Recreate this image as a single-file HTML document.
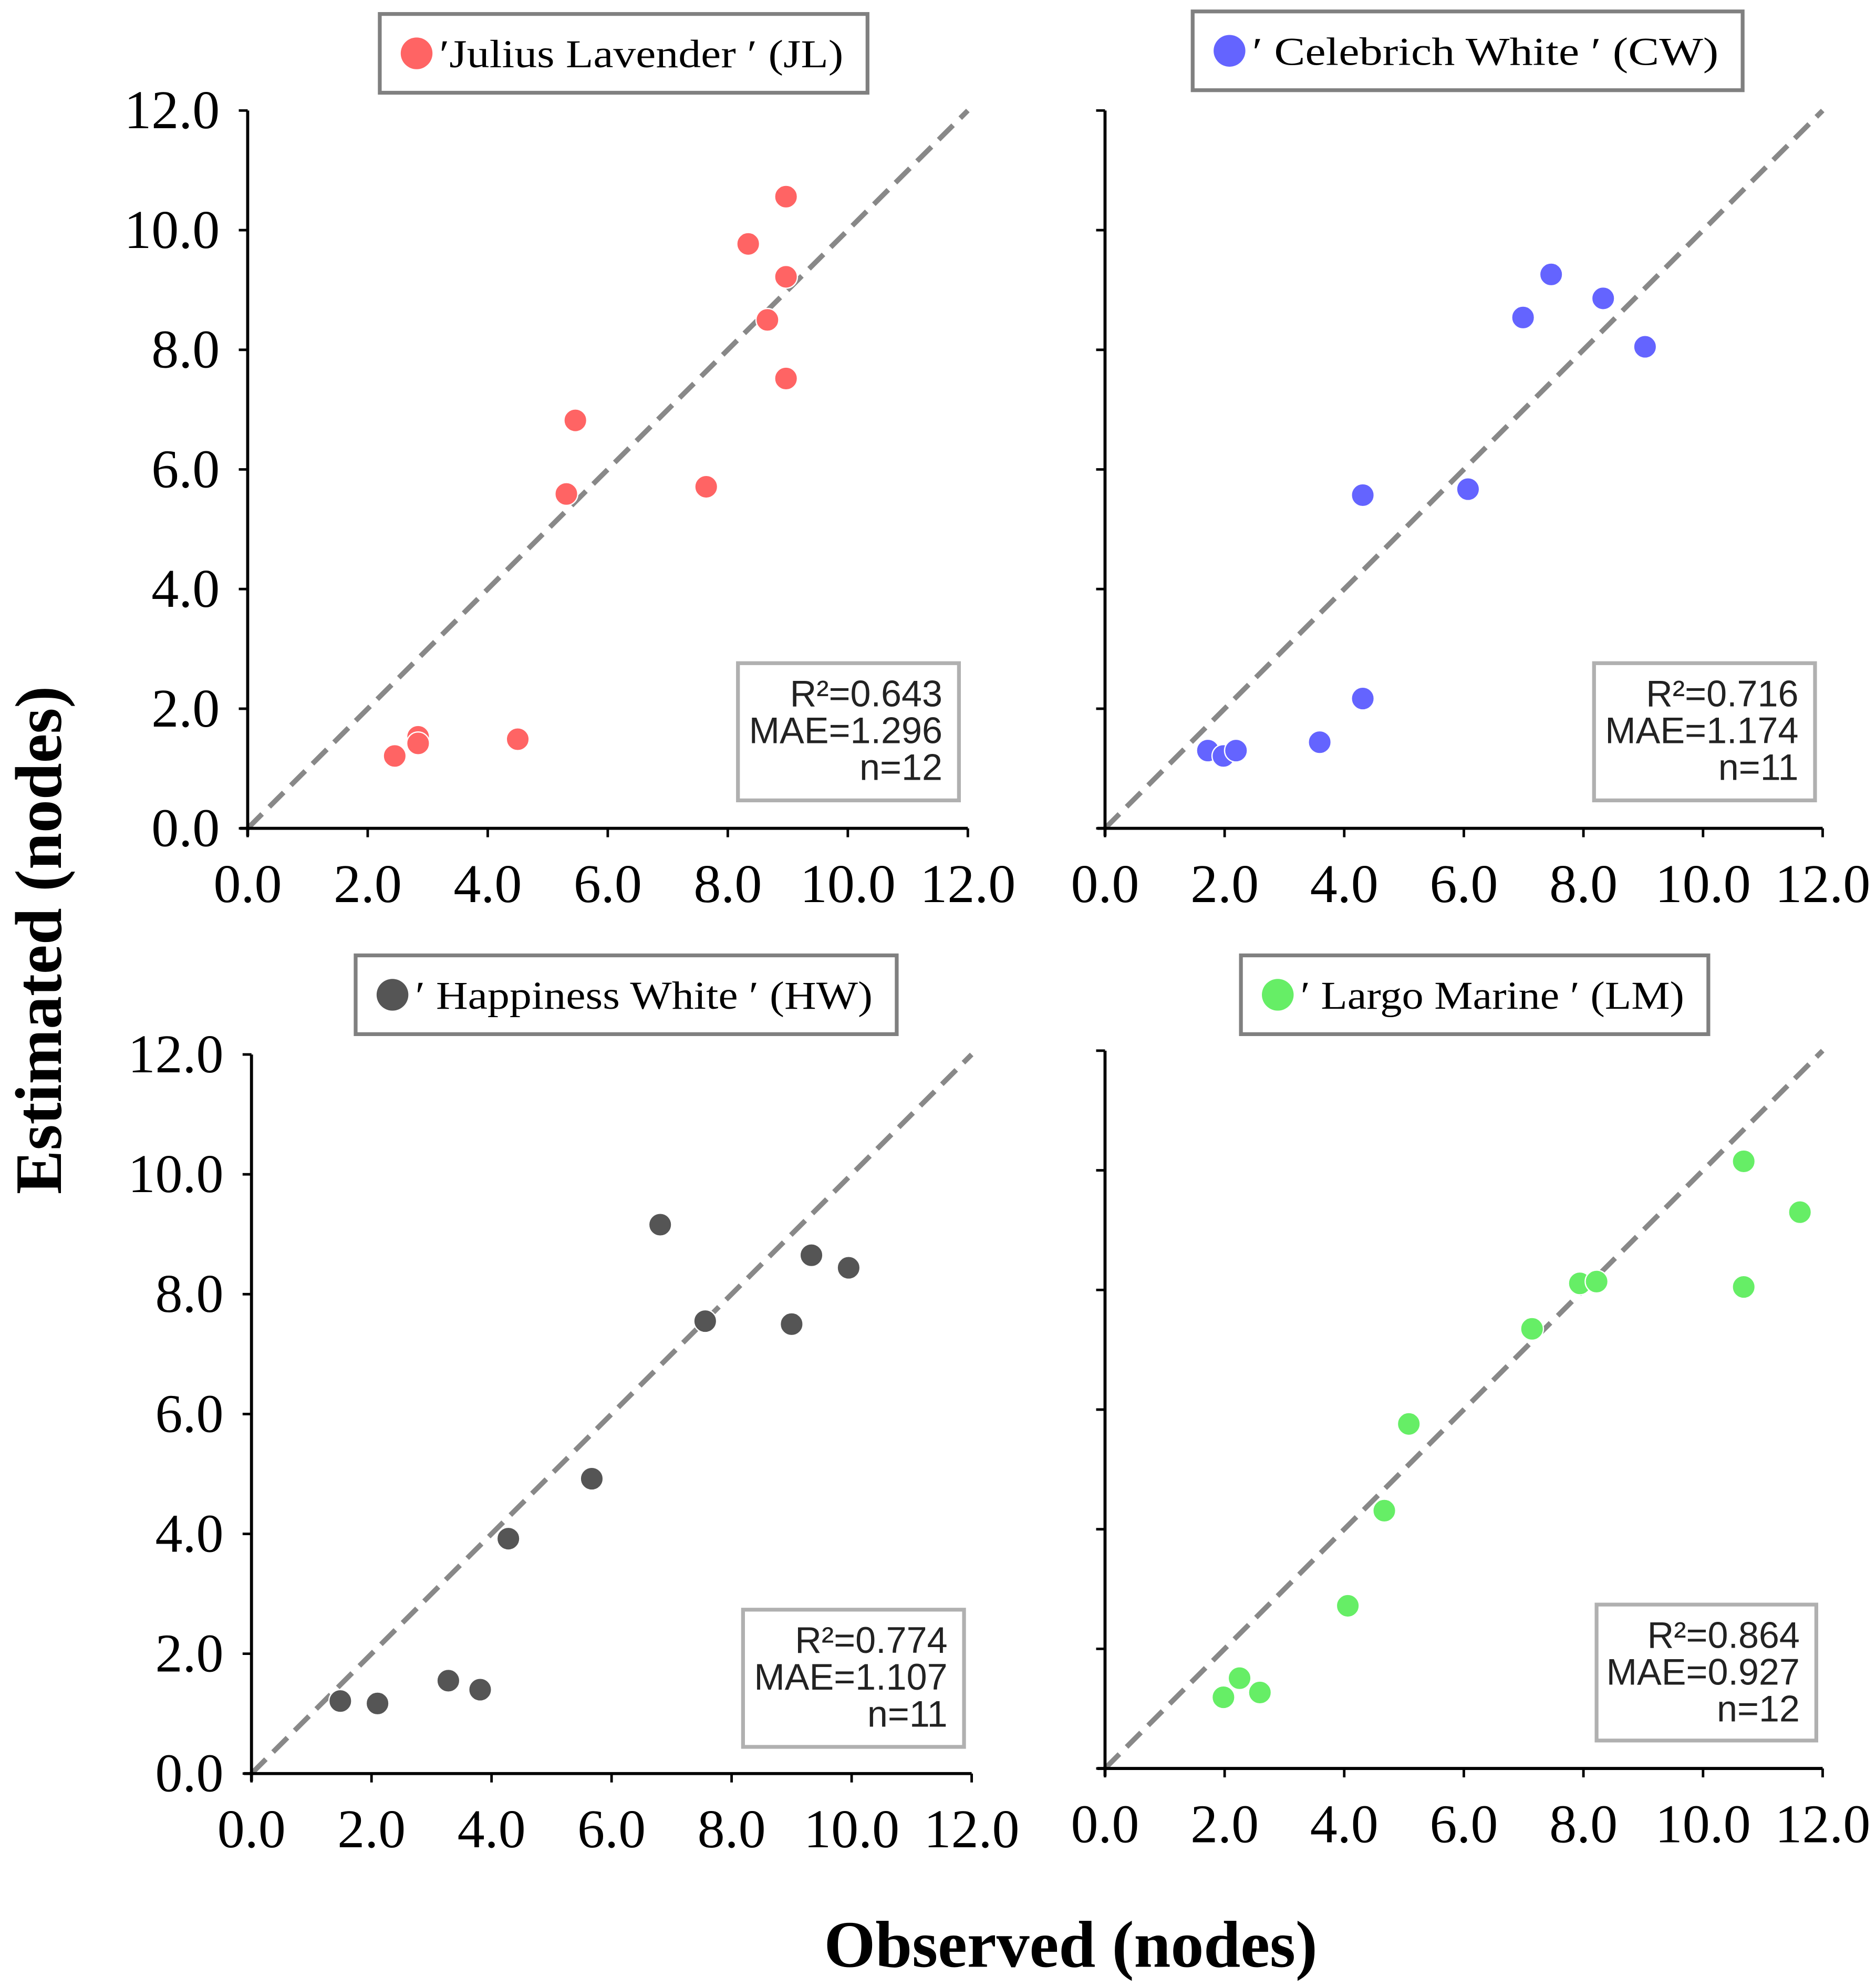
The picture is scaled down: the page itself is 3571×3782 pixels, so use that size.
<!DOCTYPE html>
<html><head><meta charset="utf-8">
<style>html,body{margin:0;padding:0;background:#fff;}svg{display:block;}</style>
</head><body>
<svg id="chart" xmlns="http://www.w3.org/2000/svg" width="3571" height="3782" viewBox="0 0 1477 1564" preserveAspectRatio="none">
<text transform="translate(48,740) rotate(-90)" text-anchor="middle" font-family="Liberation Serif, serif" font-weight="bold" font-size="52">Estimated (nodes)</text>
<text x="843" y="1548" text-anchor="middle" font-family="Liberation Serif, serif" font-weight="bold" font-size="52">Observed (nodes)</text>
</svg>
<script>
const NS='http://www.w3.org/2000/svg';
const svg=document.getElementById('chart');
const tickValues=[0,2,4,6,8,10,12];
const tickLabels=['0.0','2.0','4.0','6.0','8.0','10.0','12.0'];
const jlObserved=[2.45,2.84,2.84,4.5,5.31,5.46,7.64,8.34,8.66,8.97,8.97,8.97];
const jlEstimated=[1.21,1.53,1.42,1.49,5.59,6.82,5.71,9.77,8.5,10.56,9.22,7.52];
const cwObserved=[1.72,1.98,2.19,3.59,4.31,4.31,6.07,6.99,7.46,8.33,9.03];
const cwEstimated=[1.30,1.21,1.30,1.44,2.17,5.57,5.67,8.54,9.26,8.86,8.05];
const hwObserved=[1.48,2.10,3.28,3.81,4.28,5.67,6.81,7.56,9.0,9.33,9.95];
const hwEstimated=[1.21,1.17,1.55,1.40,3.92,4.92,9.16,7.55,7.50,8.65,8.44];
const lmObserved=[1.98,2.25,2.59,4.06,4.67,5.08,7.14,7.94,8.22,10.68,10.68,11.62];
const lmEstimated=[1.19,1.51,1.27,2.72,4.31,5.76,7.35,8.11,8.14,10.15,8.05,9.30];
const statsJL=['R²=0.643','MAE=1.296','n=12'];
const statsCW=['R²=0.716','MAE=1.174','n=11'];
const statsHW=['R²=0.774','MAE=1.107','n=11'];
const statsLM=['R²=0.864','MAE=0.927','n=12'];

const panels=[
 {id:'jl',label:'\u2032Julius Lavender \u2032 (JL)',color:'#ff6464',xs:jlObserved,ys:jlEstimated,stats:statsJL,
  x0:195,x1:762,y0:652,y1:87,ylab:true,leg:[299,11,384,62],st:[581,522,174,108]},
 {id:'cw',label:'\u2032 Celebrich White \u2032 (CW)',color:'#6464ff',xs:cwObserved,ys:cwEstimated,stats:statsCW,
  x0:870,x1:1435,y0:652,y1:87,ylab:false,leg:[939,9,433,62],st:[1255,522,174,108]},
 {id:'hw',label:'\u2032 Happiness White \u2032 (HW)',color:'#555555',xs:hwObserved,ys:hwEstimated,stats:statsHW,
  x0:198,x1:765,y0:1396,y1:830,ylab:true,leg:[280,752,426,62],st:[585,1267,174,108]},
 {id:'lm',label:'\u2032 Largo Marine \u2032 (LM)',color:'#66ee66',xs:lmObserved,ys:lmEstimated,stats:statsLM,
  x0:870,x1:1435,y0:1392,y1:827,ylab:false,leg:[977,752,368,62],st:[1257,1263,173,107]}
];
function mk(tag,attrs,parent){const e=document.createElementNS(NS,tag);for(const k in attrs)e.setAttribute(k,attrs[k]);(parent||svg).appendChild(e);return e;}
panels.forEach(p=>{
 const g=mk('g',{});
 
 
 const sx=v=>p.x0+(p.x1-p.x0)*v/12;
 const sy=v=>p.y0+(p.y1-p.y0)*v/12;
 const d=mk('line',{x1:sx(0),y1:sy(0),x2:sx(12),y2:sy(12),stroke:'#888','stroke-width':4,'stroke-dasharray':'16,8'},g);
 
 
 const ya=mk('line',{x1:sx(0),y1:sy(12),x2:sx(0),y2:sy(0)+6,stroke:'#000','stroke-width':2.4},g);
 
 
 const xa=mk('line',{x1:sx(0)-6,y1:sy(0),x2:sx(12),y2:sy(0),stroke:'#000','stroke-width':2.4},g);
 
 
 tickValues.forEach((v,i)=>{
  mk('line',{x1:sx(0)-7,y1:sy(v),x2:sx(0),y2:sy(v),stroke:'#000','stroke-width':2},g);
  mk('line',{x1:sx(v),y1:sy(0),x2:sx(v),y2:sy(0)+7,stroke:'#000','stroke-width':2},g);
  const xt=mk('text',{x:sx(v),y:sy(0)+58,'text-anchor':'middle','font-family':'Liberation Serif, serif','font-size':43},g);
  xt.textContent=tickLabels[i];
  
  
  if(p.ylab){
   const yt=mk('text',{x:sx(0)-22,y:sy(v)+14,'text-anchor':'end','font-family':'Liberation Serif, serif','font-size':43},g);
   yt.textContent=tickLabels[i];
   
   
  }
 });
 p.xs.forEach((xv,i)=>{
  const c=mk('circle',{cx:sx(xv),cy:sy(p.ys[i]),r:9,fill:p.color,stroke:'#fff','stroke-width':1},g);
  
  
 });
 const [lx,ly,lw,lh]=p.leg;
 const lg=mk('g',{},g);
 
 
 mk('rect',{x:lx,y:ly,width:lw,height:lh,fill:'#fff',stroke:'#808080','stroke-width':3},lg);
 mk('circle',{cx:lx+29,cy:ly+31,r:12.5,fill:p.color},lg);
 const lt=mk('text',{x:lx+47,y:ly+42,'font-family':'Liberation Serif, serif','font-size':31,textLength:lw-66,lengthAdjust:'spacingAndGlyphs'},lg);
 lt.textContent=p.label;
 const [bx,by,bw,bh]=p.st;
 const sb=mk('g',{},g);
 
 
 mk('rect',{x:bx,y:by,width:bw,height:bh,fill:'#fff',stroke:'#b0b0b0','stroke-width':3},sb);
 p.stats.forEach((s,i)=>{
  const t=mk('text',{x:bx+bw-13,y:by+34+i*29,'text-anchor':'end','font-family':'Liberation Sans, sans-serif','font-size':29,fill:'#222'},sb);
  t.textContent=s;
 });
});
</script>
</body></html>
